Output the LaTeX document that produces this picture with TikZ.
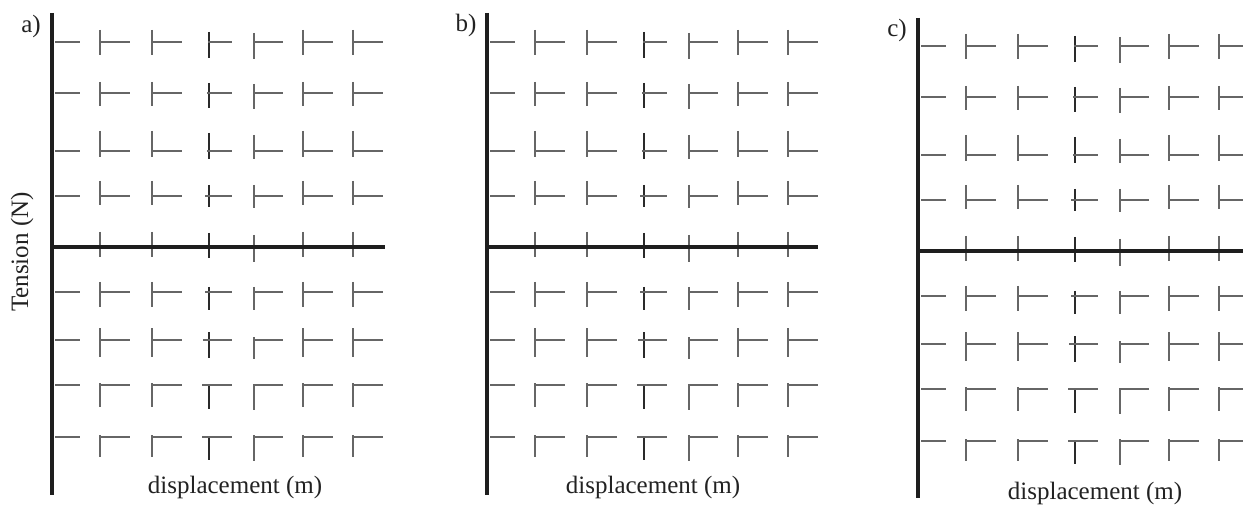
\documentclass[tikz,border=0pt]{standalone}
\usepackage{fontspec}
\setmainfont{Liberation Serif}
\definecolor{markgray}{HTML}{666666}
\definecolor{markdark}{HTML}{2A2A2A}
\definecolor{axiscol}{HTML}{1E1E1E}
\definecolor{txtcol}{HTML}{222222}
\newcommand\drawpanel[5]{%
  % #1 axis x, #2 vertical shift, #3 axis top, #4 axis bottom, #5 axis right end
  \foreach \yy/\ta/\ba/\tc/\bc/\td/\bd/\sx in
    {42/30/55/32/58/33/59/156,
     93/82/106/83/108/84/109/155,
     151/131/157/133/159/135/159/155,
     196/181/205/185/207/185/208/153,
     292/282/307/287/310/287/310/153,
     340/328/357/332/358/337/359/151,
     385/383/407/384/409/384/410/150,
     437/435/457/436/460/435/461/150}{%
    \draw[mk] ({#1+3},{\yy+#2}) -- ({#1+28},{\yy+#2});
    \foreach \cc in {48,100,251,301}{%
      \draw[mk] ({#1+\cc},{\ta+#2}) -- ({#1+\cc},{\ba+#2});
      \draw[mk] ({#1+\cc},{\yy+#2}) -- ({#1+\cc+30},{\yy+#2});
    }
    \draw[mkd] ({#1+157},{\tc+#2}) -- ({#1+157},{\bc+#2});
    \draw[mk] ({#1+\sx},{\yy+#2}) -- ({#1+180},{\yy+#2});
    \draw[mk] ({#1+202},{\td+#2}) -- ({#1+202},{\bd+#2});
    \draw[mk] ({#1+202},{\yy+#2}) -- ({#1+231},{\yy+#2});
  }
  \foreach \cc in {48,100,251,301}{%
    \draw[mk] ({#1+\cc},{232+#2}) -- ({#1+\cc},{257+#2});
  }
  \draw[mkd] ({#1+157},{233+#2}) -- ({#1+157},{258+#2});
  \draw[mk] ({#1+202},{235+#2}) -- ({#1+202},{262+#2});
  \draw[ax] (#1,#3) -- (#1,#4);
  \draw[ax] ({#1-1.5},{247+#2}) -- (#5,{247+#2});
}
\begin{document}
\begin{tikzpicture}[x=1pt,y={(0pt,-1pt)},
  mk/.style={line width=2.3pt,draw=markgray},
  mkd/.style={line width=2.3pt,draw=markdark},
  ax/.style={line width=3.4pt,draw=axiscol},
  lbl/.style={inner sep=0pt,text=txtcol,font=\fontsize{25}{30}\selectfont}]
\useasboundingbox (0,0) rectangle (1243,505);
\clip (0,0) rectangle (1243,505);
\fill[white] (0,0) rectangle (1243,505);
\drawpanel{52}{0}{13}{495}{385}
\drawpanel{487}{0}{13}{495}{818}
\drawpanel{918}{4}{18}{498}{1250}
\node[lbl] (la) at (31,26) {a)};
\node[lbl] (lb) at (466,25) {b)};
\node[lbl] (lc) at (897,30) {c)};
\node[lbl,rotate=90] (ya) at (22,252) {Tension (N)};
\node[lbl] (xa) at (235,487) {displacement (m)};
\node[lbl] (xb) at (653,487) {displacement (m)};
\node[lbl] (xc) at (1095,493) {displacement (m)};
\end{tikzpicture}
\end{document}
